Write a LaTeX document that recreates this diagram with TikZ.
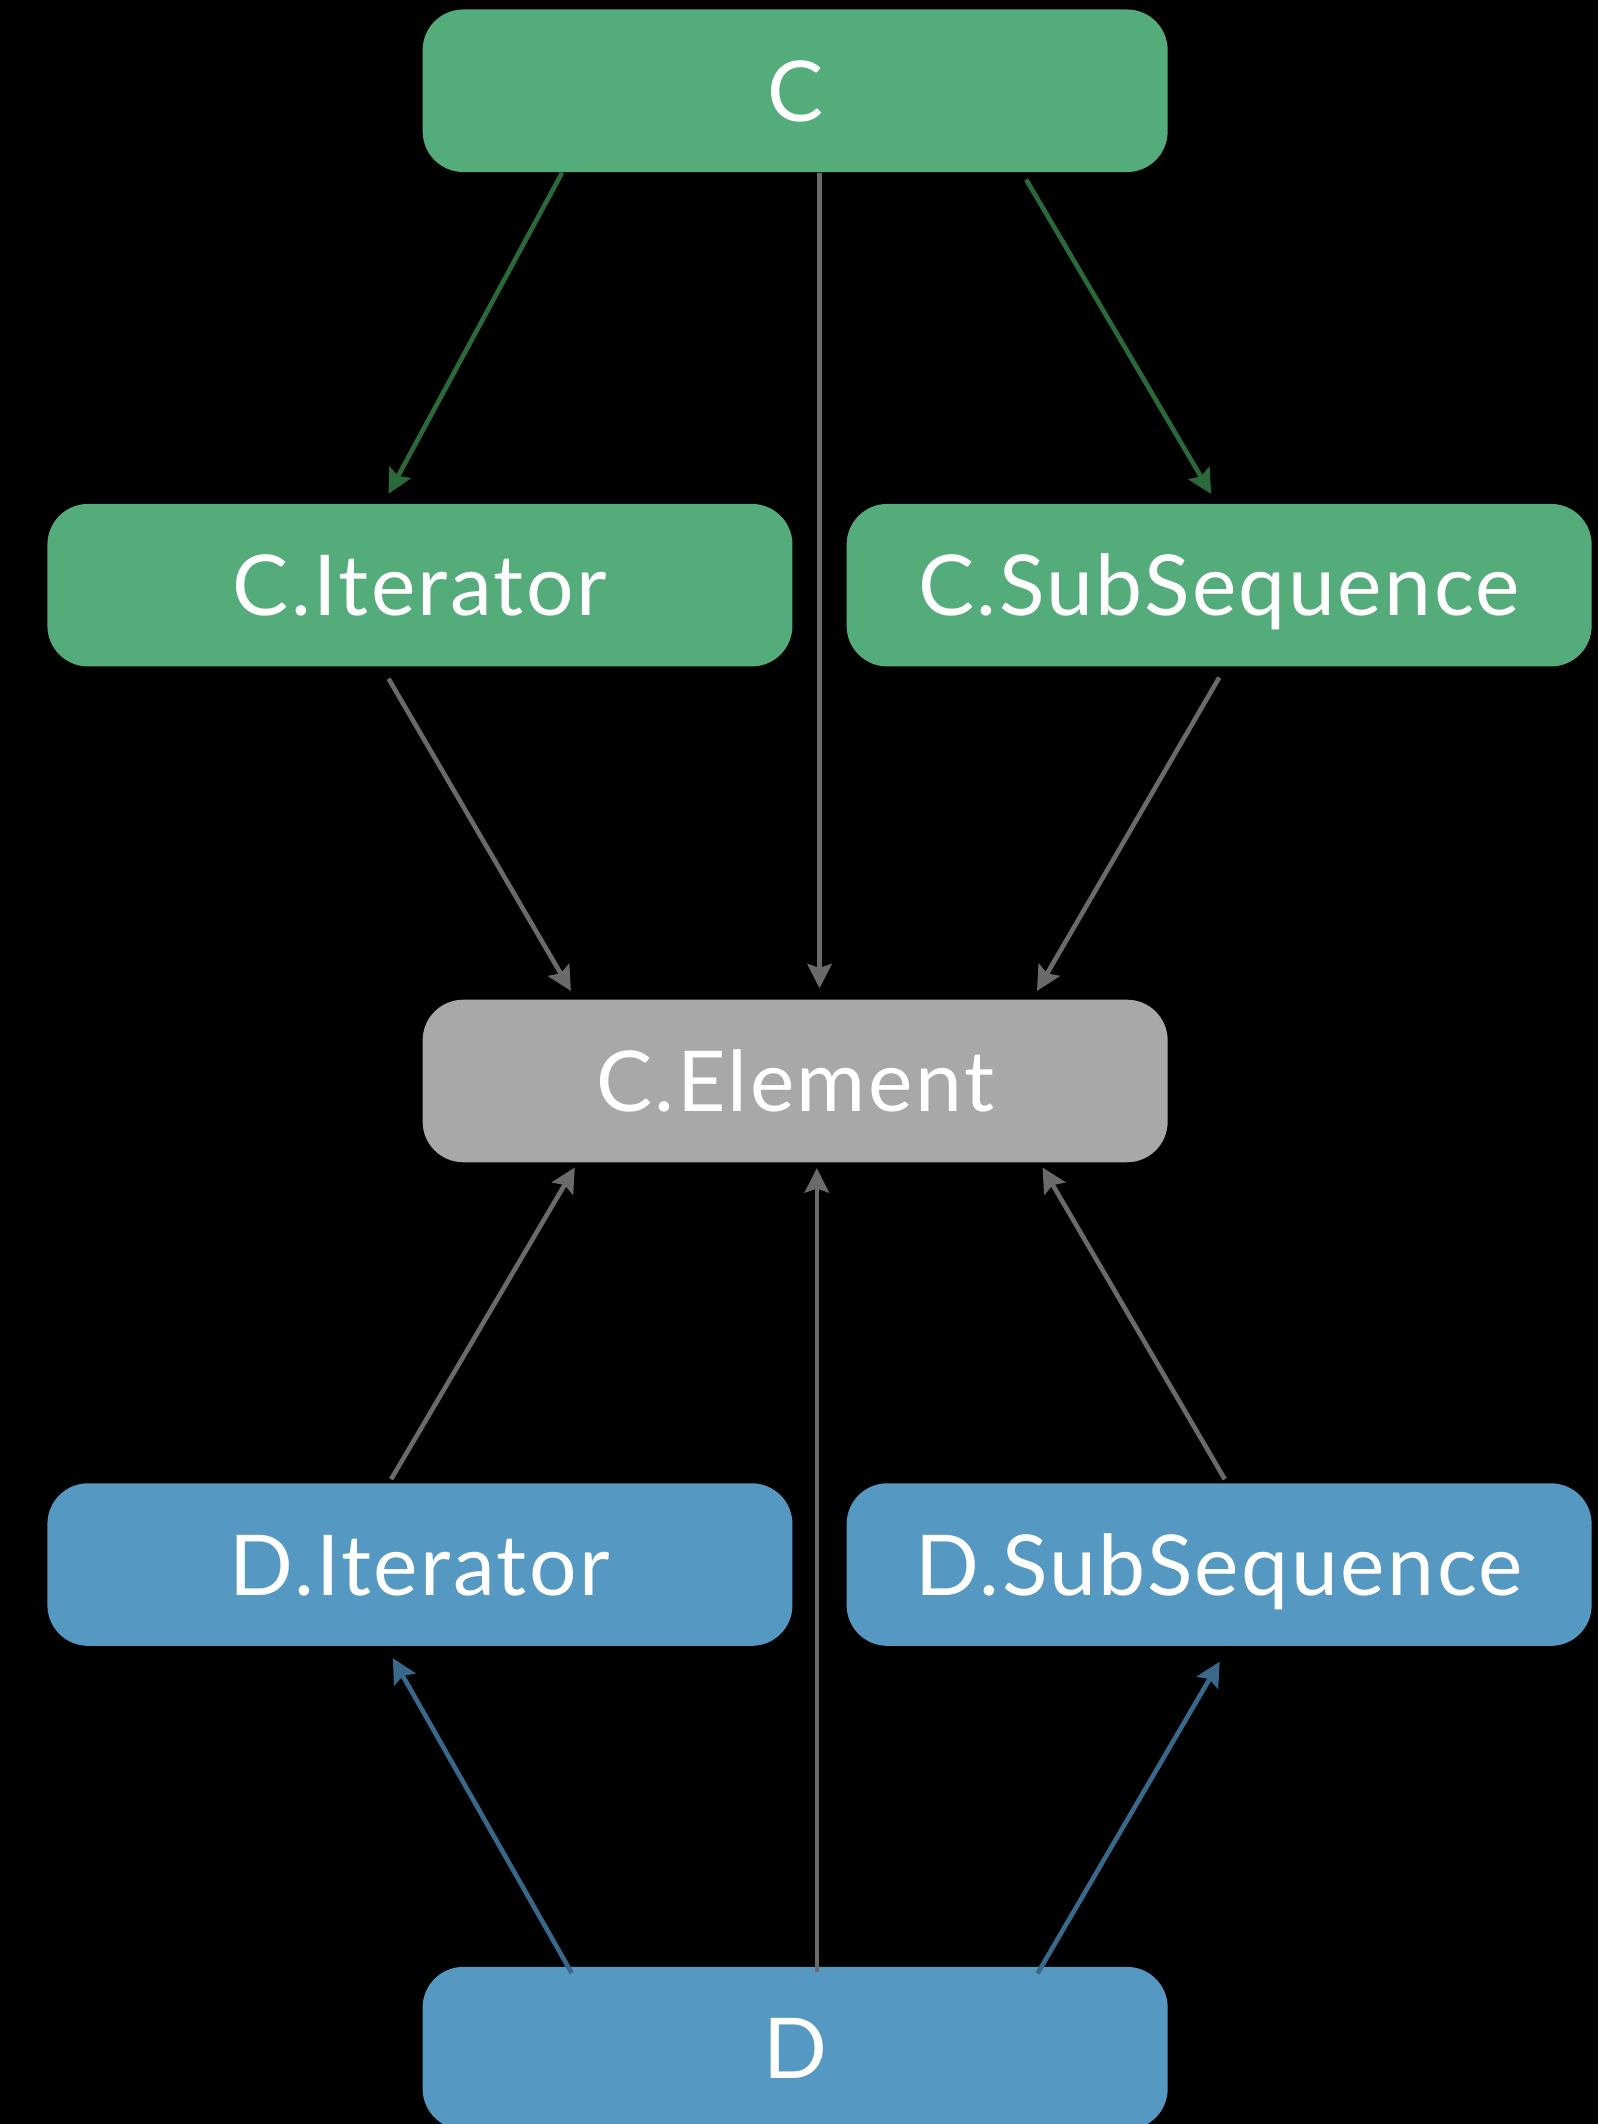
\documentclass[tikz,border=0pt]{standalone}
\usepackage{fontspec}
\setmainfont{Lato}[LetterSpace=3]
\usetikzlibrary{arrows.meta}
\definecolor{boxgreen}{HTML}{55AC7B}
\definecolor{boxblue}{HTML}{5598C2}
\definecolor{boxgray}{HTML}{A8A8A8}
\definecolor{lnkgreen}{HTML}{2A6A3A}
\definecolor{lnkgray}{HTML}{6A6A6A}
\definecolor{lnkblue}{HTML}{38698A}
\tikzset{
  typebox/.style={rounded corners=15pt, minimum width=275pt, minimum height=60pt,
    inner sep=0pt, text=white, font=\fontsize{31}{36}\selectfont,
    text height=22.5pt, text depth=0pt},
  greenbox/.style={typebox, fill=boxgreen},
  bluebox/.style={typebox, fill=boxblue},
  graybox/.style={typebox, fill=boxgray},
  link/.style={line width=1.7pt, -{Stealth[length=9pt,width=9pt,inset=1.5pt]}},
  glink/.style={link, draw=lnkgreen, fill=lnkgreen},
  elink/.style={link, draw=lnkgray, fill=lnkgray},
  blink/.style={link, draw=lnkblue, fill=lnkblue},
}
\begin{document}
\begin{tikzpicture}[x=0.5pt, y=-0.5pt]
  \fill[black] (0,0) rectangle (1180,1568);
  \useasboundingbox (0,0) rectangle (1180,1568);

  % type boxes
  \node[greenbox] (c)  at (587,67)   {C};
  \node[greenbox] (ci) at (310,432)  {C.Iterator};
  \node[greenbox] (cs) at (900,432)  {C.SubSequence};
  \node[graybox]  (ce) at (587,798)  {C.Element};
  \node[bluebox]  (di) at (310,1155) {D.Iterator};
  \node[bluebox]  (ds) at (900,1155) {D.SubSequence};
  \node[bluebox]  (d)  at (587,1512) {D};

  % C to its associated types
  \draw[glink, shorten >=4pt] ([xshift=-86pt]c.south) -- ([xshift=-13.5pt]ci.north);
  \draw[glink, shorten <=3pt, shorten >=4pt] ([xshift=83.75pt]c.south) -- ([xshift=-0.9pt]cs.north);
  \draw[elink, shorten >=4pt] ([xshift=9pt]c.south) -- ([xshift=9pt]ce.north);

  % C's associated types to the element type
  \draw[elink, shorten <=5pt, shorten >=3.5pt] ([xshift=-14.1pt]ci.south) -- ([xshift=-81pt]ce.north);
  \draw[elink, shorten <=4.5pt, shorten >=3.5pt] ([xshift=2.3pt]cs.south) -- ([xshift=87.5pt]ce.north);

  % D's associated types to the element type
  \draw[elink, shorten <=1.5pt, shorten >=2pt] ([xshift=-11.4pt]di.north) -- ([xshift=-80.3pt]ce.south);
  \draw[elink, shorten <=1.5pt, shorten >=2pt] ([xshift=2.85pt]ds.north) -- ([xshift=90.3pt]ce.south);
  \draw[elink, shorten <=-2pt, shorten >=2pt] ([xshift=8pt]d.north) -- ([xshift=8pt]ce.south);

  % D to its associated types
  \draw[blink, shorten <=-2.8pt, shorten >=5pt] ([xshift=-83.9pt]d.north) -- ([xshift=-12.5pt]di.south);
  \draw[blink, shorten <=-3pt, shorten >=6.5pt] ([xshift=91pt]d.north) -- ([xshift=3.5pt]ds.south);
\end{tikzpicture}
\end{document}
